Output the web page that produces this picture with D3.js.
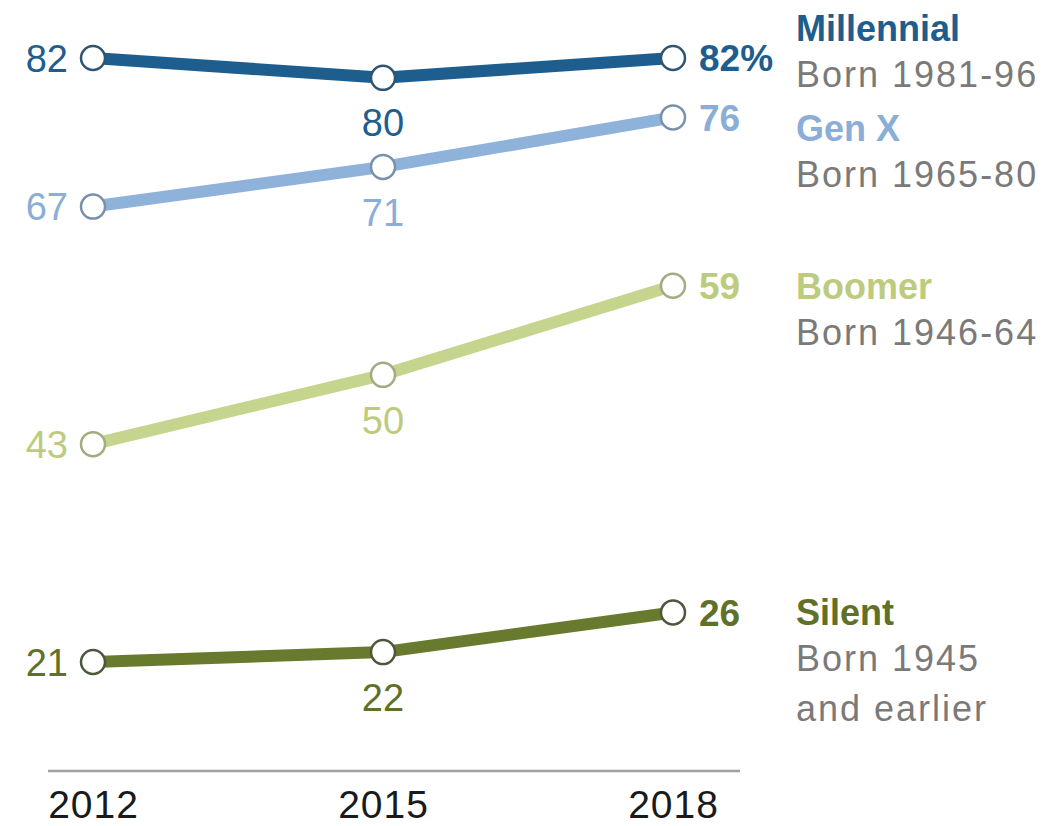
<!DOCTYPE html>
<html>
<head>
<meta charset="utf-8">
<script src="https://cdn.jsdelivr.net/npm/d3@7"></script>
<style>
  html, body { margin: 0; padding: 0; background: #fff; }
  svg { display: block; }
  text { font-family: "Liberation Sans", Arial, sans-serif; }
</style>
</head>
<body>
<svg id="chart" width="1051" height="826"></svg>
<script>
const years = ['2012', '2015', '2018']

const millennial = [82, 80, 82]
const genX = [67, 71, 76]
const boomer = [43, 50, 59]
const silent = [21, 22, 26]

const seriesNames = ['Millennial', 'Gen X', 'Boomer', 'Silent']
const seriesBorn = [['Born 1981-96'], ['Born 1965-80'], ['Born 1946-64'], ['Born 1945', 'and earlier']]
const seriesColors = ['#1e5e8e', '#8fb2db', '#c6d58e', '#687a2e']
const circleStrokes = ['#2f5472', '#7890aa', '#a3ab80', '#4d573a']
const labelColors = ['#1e5e8e', '#8aaed6', '#bccb7e', '#5f7028']
const legendY = [28, 128, 286, 612]

const seriesValues = [millennial, genX, boomer, silent]

const svg = d3.select('#chart')

// スケール
const x = d3.scalePoint().domain(years).range([93, 673])
const y = d3.scaleLinear().domain([21, 82]).range([662, 58])

// ベースライン
svg.append('line')
  .attr('x1', 48).attr('x2', 740)
  .attr('y1', 771).attr('y2', 771)
  .attr('stroke', '#a0a0a0')
  .attr('stroke-width', 2.5)

// x軸ラベル
const axisG = svg.append('g')
  .attr('transform', 'translate(0,790)')
  .call(d3.axisBottom(x).tickSize(0).tickPadding(0))
axisG.select('.domain').remove()
axisG.selectAll('text')
  .attr('font-size', 39)
  .attr('fill', '#1a1a1a')
  .attr('letter-spacing', 1)
  .style('font-family', '"Liberation Sans", Arial, sans-serif')

const series = seriesNames.map((name, i) => ({
  name,
  born: seriesBorn[i],
  color: seriesColors[i],
  stroke: circleStrokes[i],
  labelColor: labelColors[i],
  legendY: legendY[i],
  values: seriesValues[i].map((v, j) => ({ year: years[j], value: v }))
}))

const line = d3.line()
  .x(d => x(d.year))
  .y(d => y(d.value))

const groups = svg.append('g')
  .selectAll('g')
  .data(series)
  .enter()
  .append('g')

// 線
groups.append('path')
  .attr('d', d => line(d.values))
  .attr('fill', 'none')
  .attr('stroke', d => d.color)
  .attr('stroke-width', 12)
  .attr('stroke-linejoin', 'round')

// 円
groups.each(function (s) {
  d3.select(this).selectAll('circle')
    .data(s.values)
    .enter()
    .append('circle')
    .attr('cx', d => x(d.year))
    .attr('cy', d => y(d.value))
    .attr('r', 12)
    .attr('fill', '#fff')
    .attr('stroke', s.stroke)
    .attr('stroke-width', 2.5)
})

// 左ラベル
groups.append('text')
  .attr('x', d => x(d.values[0].year) - 25)
  .attr('y', d => y(d.values[0].value))
  .attr('dy', '0.36em')
  .attr('text-anchor', 'end')
  .attr('font-size', 38)
  .attr('fill', d => d.labelColor)
  .text(d => d.values[0].value)

// 中央ラベル
groups.append('text')
  .attr('x', d => x(d.values[1].year))
  .attr('y', d => y(d.values[1].value) + 45)
  .attr('dy', '0.36em')
  .attr('text-anchor', 'middle')
  .attr('font-size', 38)
  .attr('fill', d => d.labelColor)
  .text(d => d.values[1].value)

// 右ラベル
groups.append('text')
  .attr('x', d => x(d.values[2].year) + 26)
  .attr('y', d => y(d.values[2].value))
  .attr('dy', '0.36em')
  .attr('font-size', 37)
  .attr('font-weight', 'bold')
  .attr('fill', d => d.labelColor)
  .text((d, i) => d.values[2].value + (i === 0 ? '%' : ''))

// 凡例
groups.append('text')
  .attr('x', 796)
  .attr('y', d => d.legendY)
  .attr('dy', '0.36em')
  .attr('font-size', 36)
  .attr('font-weight', 'bold')
  .attr('fill', d => d.labelColor)
  .text(d => d.name)

groups.each(function (s) {
  d3.select(this).selectAll('text.born')
    .data(s.born)
    .enter()
    .append('text')
    .attr('class', 'born')
    .attr('x', 796)
    .attr('y', (d, j) => s.legendY + 46 + j * 50)
    .attr('dy', '0.36em')
    .attr('font-size', 36)
    .attr('letter-spacing', 2)
    .attr('fill', '#7a7a7a')
    .text(d => d)
})
</script>
</body>
</html>
